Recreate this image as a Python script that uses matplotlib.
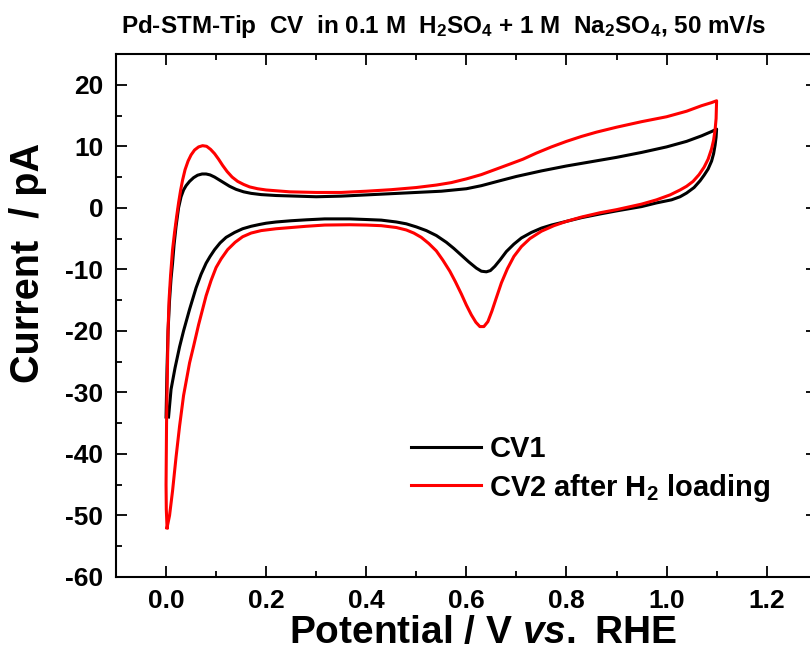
import matplotlib
matplotlib.use("Agg")
import matplotlib.pyplot as plt
from matplotlib.ticker import MultipleLocator

plt.rcParams['font.family'] = ['Liberation Sans', 'DejaVu Sans']
plt.rcParams['axes.unicode_minus'] = False
plt.rcParams['mathtext.fontset'] = 'custom'
plt.rcParams['mathtext.rm'] = 'Liberation Sans:bold'
plt.rcParams['mathtext.it'] = 'Liberation Sans:bold:italic'
plt.rcParams['mathtext.bf'] = 'Liberation Sans:bold'

# CV1 (black): anodic sweep then cathodic sweep
cv1_E = [0.000, 0.001, 0.002, 0.004, 0.007, 0.010, 0.013, 0.016, 0.020, 0.025,
         0.030, 0.035, 0.040, 0.047, 0.055, 0.063, 0.072, 0.080, 0.088, 0.097,
         0.107, 0.117, 0.127, 0.140, 0.155, 0.170, 0.190, 0.220, 0.260, 0.300,
         0.350, 0.400, 0.450, 0.500, 0.550, 0.600, 0.630, 0.667, 0.700, 0.750,
         0.800, 0.850, 0.900, 0.950, 1.000, 1.040, 1.070, 1.090, 1.100,
         1.099, 1.097, 1.094, 1.090, 1.083, 1.075, 1.067, 1.055, 1.040, 1.027,
         1.010, 0.980, 0.950, 0.900, 0.867, 0.830, 0.800, 0.770, 0.750, 0.730,
         0.710, 0.695, 0.680, 0.668, 0.657, 0.648, 0.640, 0.630, 0.620, 0.605,
         0.590, 0.575, 0.560, 0.540, 0.520, 0.500, 0.480, 0.460, 0.430, 0.400,
         0.367, 0.317, 0.280, 0.250, 0.220, 0.200, 0.187, 0.170, 0.153, 0.137,
         0.120, 0.108, 0.097, 0.088, 0.080, 0.070, 0.060, 0.047, 0.035, 0.027,
         0.018, 0.010, 0.005]
cv1_I = [-34.0, -30.0, -26.0, -20.0, -15.0, -11.5, -9.0, -6.0, -3.0, 0.0,
         1.8, 2.9, 3.6, 4.3, 4.9, 5.3, 5.5, 5.5, 5.35, 5.0,
         4.5, 4.0, 3.5, 3.0, 2.6, 2.35, 2.15, 2.0, 1.9, 1.8,
         1.9, 2.1, 2.3, 2.5, 2.7, 3.1, 3.6, 4.4, 5.1, 6.0,
         6.8, 7.5, 8.2, 9.0, 9.9, 10.8, 11.7, 12.4, 12.8,
         11.5, 10.2, 8.8, 7.6, 6.3, 5.3, 4.4, 3.3, 2.4, 1.8,
         1.3, 0.8, 0.2, -0.5, -1.0, -1.6, -2.2, -2.8, -3.3, -4.0,
         -4.9, -5.9, -7.1, -8.4, -9.5, -10.2, -10.4, -10.3, -9.8, -8.8,
         -7.7, -6.6, -5.6, -4.5, -3.7, -3.1, -2.6, -2.3, -2.0, -1.9,
         -1.8, -1.8, -1.95, -2.1, -2.3, -2.5, -2.7, -3.0, -3.4, -4.0,
         -4.8, -5.7, -6.8, -7.9, -9.0, -10.8, -13.0, -16.5, -20.0, -22.6,
         -26.0, -29.5, -34.0]

# CV2 after H2 loading (red)
cv2_E = [0.002, 0.0005, 0.000, 0.0005, 0.001, 0.002, 0.003, 0.004, 0.006, 0.009,
         0.013, 0.017, 0.021, 0.025, 0.029, 0.033, 0.038, 0.044, 0.050, 0.057,
         0.065, 0.073, 0.081, 0.089, 0.097, 0.105, 0.113, 0.122, 0.132, 0.143,
         0.155, 0.167, 0.183, 0.200, 0.247, 0.300, 0.350, 0.400, 0.450, 0.500,
         0.540, 0.570, 0.600, 0.630, 0.660, 0.690, 0.713, 0.740, 0.770, 0.800,
         0.830, 0.860, 0.900, 0.950, 1.000, 1.040, 1.070, 1.090, 1.100,
         1.0995, 1.099, 1.097, 1.094, 1.090, 1.083, 1.075, 1.065, 1.053, 1.040,
         1.027, 1.007, 0.980, 0.950, 0.900, 0.867, 0.830, 0.800, 0.775, 0.750,
         0.727, 0.710, 0.695, 0.682, 0.670, 0.660, 0.651, 0.643, 0.635, 0.627,
         0.619, 0.610, 0.600, 0.590, 0.578, 0.567, 0.553, 0.540, 0.525, 0.510,
         0.495, 0.480, 0.460, 0.430, 0.400, 0.367, 0.317, 0.280, 0.250, 0.220,
         0.190, 0.170, 0.153, 0.138, 0.123, 0.110, 0.100, 0.090, 0.080, 0.065,
         0.055, 0.047, 0.035, 0.027, 0.020, 0.013, 0.007, 0.002]
cv2_I = [-52.0, -49.0, -45.0, -40.0, -35.0, -30.0, -25.0, -20.0, -15.0, -11.0,
         -6.8, -4.0, -1.5, 0.8, 2.8, 4.5, 6.2, 7.6, 8.6, 9.4,
         9.9, 10.1, 10.0, 9.5, 8.8, 7.9, 6.9, 5.9, 5.0, 4.3,
         3.8, 3.4, 3.1, 2.9, 2.6, 2.5, 2.5, 2.7, 2.95, 3.3,
         3.7, 4.1, 4.7, 5.4, 6.3, 7.2, 7.9, 8.9, 9.9, 10.8,
         11.6, 12.3, 13.1, 14.0, 14.8, 15.7, 16.6, 17.1, 17.4,
         16.0, 14.5, 12.7, 11.0, 9.6, 7.9, 6.6, 5.4, 4.3, 3.5,
         2.9, 2.1, 1.3, 0.6, -0.3, -0.8, -1.5, -2.2, -2.9, -3.8,
         -5.0, -6.3, -7.9, -9.9, -12.2, -14.6, -16.8, -18.5, -19.3, -19.3,
         -18.6, -17.4, -15.8, -14.0, -12.0, -10.3, -8.5, -7.0, -5.8, -4.8,
         -4.1, -3.6, -3.2, -2.9, -2.8, -2.75, -2.8, -3.0, -3.2, -3.4,
         -3.7, -4.1, -4.7, -5.6, -6.8, -8.3, -9.7, -11.8, -14.3, -19.0,
         -22.5, -25.2, -30.5, -35.5, -40.5, -46.0, -50.0, -52.0]

labels = ['CV1', 'CV2 after H$_2$ loading']

fig = plt.figure(figsize=(8.1, 6.6), dpi=100)
ax = fig.add_axes([116 / 810, 83 / 660, 700.7 / 810, 523 / 660])

ax.plot(cv1_E, cv1_I, color='black', lw=2.2, label=labels[0])
ax.plot(cv2_E, cv2_I, color='#ff0000', lw=2.2, label=labels[1])

ax.set_xlim(-0.1, 1.3)
ax.set_ylim(-60, 25)
ax.xaxis.set_major_locator(MultipleLocator(0.2))
ax.xaxis.set_minor_locator(MultipleLocator(0.1))
ax.yaxis.set_major_locator(MultipleLocator(10))
ax.yaxis.set_minor_locator(MultipleLocator(5))
ax.tick_params(which='both', direction='in', top=True, right=True, width=1.3)
ax.tick_params(which='major', length=8, labelsize=19, pad=9)
ax.tick_params(which='minor', length=4)
ax.set_xticks([0.0, 0.2, 0.4, 0.6, 0.8, 1.0, 1.2])
ax.set_xticklabels(['0.0', '0.2', '0.4', '0.6', '0.8', '1.0', '1.2'])
for t in ax.get_xticklabels() + ax.get_yticklabels():
    t.set_fontweight('bold')
for s in ax.spines.values():
    s.set_linewidth(1.5)

ax.set_xlabel(r'Potential / V $\it{vs.}$ RHE', fontsize=28, fontweight='bold')
ax.xaxis.set_label_coords((483 - 116) / 700.7, -0.073)
ax.set_ylabel('Current  / pA', fontsize=28.5, fontweight='bold')
ax.yaxis.set_label_coords(-0.098, 0.60)

leg = ax.legend(loc='upper left', bbox_to_anchor=(0.383, 0.322), frameon=False,
                prop={'size': 21, 'weight': 'bold'}, handlelength=2.4,
                handletextpad=0.3, labelspacing=0.3)

fig.text(444 / 810, 0.96, 'Pd-STM-Tip  CV  in 0.1 M  H$_2$SO$_4$ + 1 M  Na$_2$SO$_4$, 50 mV/s',
         ha='center', va='center', fontsize=17.5, fontweight='bold')

fig.savefig('out.png', dpi=100)
